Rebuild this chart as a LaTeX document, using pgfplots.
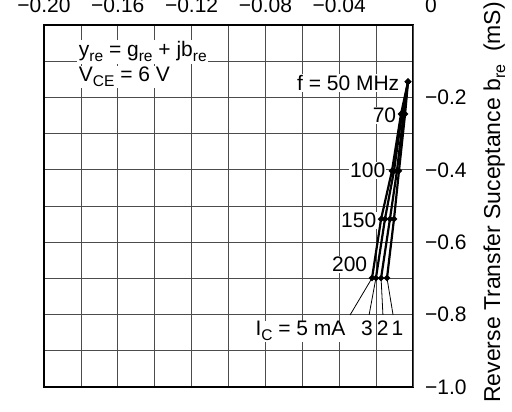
\documentclass[border=0pt]{standalone}
\usepackage{fontspec}
\setmainfont{Liberation Sans}
\usepackage{pgfplots}
\pgfplotsset{compat=1.18}

\newcommand{\fs}{\fontsize{21bp}{24bp}\selectfont}
\newcommand{\ft}{\fontsize{21bp}{24bp}\selectfont}
\newcommand{\sub}[1]{\raisebox{-5bp}{\fontsize{15.5bp}{16bp}\selectfont #1}}

\begin{document}
\begin{tikzpicture}
\begin{axis}[
    name=ax,
    scale only axis, width=369bp, height=362bp,
    xmin=-0.2, xmax=0, ymin=-1, ymax=0,
    xtick={-0.2,-0.18,-0.16,-0.14,-0.12,-0.1,-0.08,-0.06,-0.04,-0.02},
    xticklabels={−0.20,,−0.16,,−0.12,,−0.08,,−0.04,},
    extra x ticks={0}, extra x tick labels={0},
    extra x tick style={xticklabel style={xshift=18bp}},
    ytick={-1,-0.9,-0.8,-0.7,-0.6,-0.5,-0.4,-0.3,-0.2,-0.1},
    yticklabels={−1.0,,−0.8,,−0.6,,−0.4,,−0.2,},
    xticklabel pos=upper, yticklabel pos=right,
    xticklabel style={anchor=base, inner sep=0pt, yshift=12bp},
    yticklabel style={anchor=west, inner sep=0pt, xshift=12bp},
    tick label style={font=\ft},
    major tick length=0pt,
    grid=major, major grid style={black!70, line width=0.8bp},
    axis line style={line width=2.5bp},
    clip=false,
]
% labels with white backgrounds
\node[anchor=base west, fill=white, inner sep=1.5bp, font=\fs] at (axis cs:-0.1820,-0.0884) {y\sub{re} = g\sub{re} + jb\sub{re}};
\node[anchor=base west, fill=white, inner sep=1.5bp, font=\fs] at (axis cs:-0.1820,-0.157) {V\sub{CE} = 6 V};
\node[anchor=east, fill=white, inner sep=1bp, font=\fs] at (axis cs:-0.0068,-0.160) {f = 50 MHz};
\node[anchor=east, fill=white, inner sep=1bp, font=\fs] at (axis cs:-0.0085,-0.249) {70};
\node[anchor=east, fill=white, inner sep=1bp, font=\fs] at (axis cs:-0.0144,-0.401) {100};
\node[anchor=east, fill=white, inner sep=1bp, font=\fs] at (axis cs:-0.0193,-0.539) {150};
\node[anchor=east, fill=white, inner sep=1bp, font=\fs] at (axis cs:-0.0242,-0.661) {200};
\node[anchor=base west, fill=white, inner sep=1bp, font=\fs] at (axis cs:-0.0860,-0.859) {I\sub{C} = 5 mA};
\node[anchor=base west, inner sep=0pt, font=\fs] at (axis cs:-0.0282,-0.859) {3};
\node[anchor=base west, inner sep=0pt, font=\fs] at (axis cs:-0.0197,-0.859) {2};
\node[anchor=base west, inner sep=0pt, font=\fs] at (axis cs:-0.0117,-0.859) {1};
% leader lines
\draw[line width=0.8bp] (axis cs:-0.0341,-0.801) -- (axis cs:-0.0222,-0.699);
\draw[line width=0.8bp] (axis cs:-0.0238,-0.801) -- (axis cs:-0.0201,-0.699);
\draw[line width=0.8bp] (axis cs:-0.0163,-0.801) -- (axis cs:-0.0173,-0.699);
\draw[line width=0.8bp] (axis cs:-0.0108,-0.801) -- (axis cs:-0.0141,-0.699);
% curves: f = 50, 70, 100, 150, 200 MHz
% I_C = 5 mA
\addplot[black, line width=2.2bp, mark=*, mark size=1.8bp] coordinates {
  (-0.0027,-0.157) (-0.0065,-0.246) (-0.0114,-0.403) (-0.0173,-0.536) (-0.0222,-0.699)};
% I_C = 3 mA
\addplot[black, line width=2.2bp, mark=*, mark size=1.8bp] coordinates {
  (-0.0027,-0.157) (-0.0060,-0.246) (-0.0103,-0.403) (-0.0152,-0.536) (-0.0201,-0.699)};
% I_C = 2 mA
\addplot[black, line width=2.2bp, mark=*, mark size=1.8bp] coordinates {
  (-0.0027,-0.157) (-0.0051,-0.246) (-0.0087,-0.403) (-0.0125,-0.536) (-0.0173,-0.699)};
% I_C = 1 mA
\addplot[black, line width=2.2bp, mark=*, mark size=1.8bp] coordinates {
  (-0.0027,-0.157) (-0.0043,-0.246) (-0.0076,-0.403) (-0.0103,-0.536) (-0.0141,-0.699)};
% axis title on the right
\node[rotate=90, anchor=base, font=\fontsize{23bp}{27bp}\selectfont] at ([xshift=87bp]rel axis cs:1,0.51)
  {Reverse Transfer Suceptance b\raisebox{-5bp}{\fontsize{16bp}{17bp}\selectfont re}\ \ (mS)};
\end{axis}
\pgfresetboundingbox
\useasboundingbox ([xshift=-44bp,yshift=-25bp]ax.south west) rectangle ([xshift=468bp,yshift=387bp]ax.south west);
\end{tikzpicture}
\end{document}
